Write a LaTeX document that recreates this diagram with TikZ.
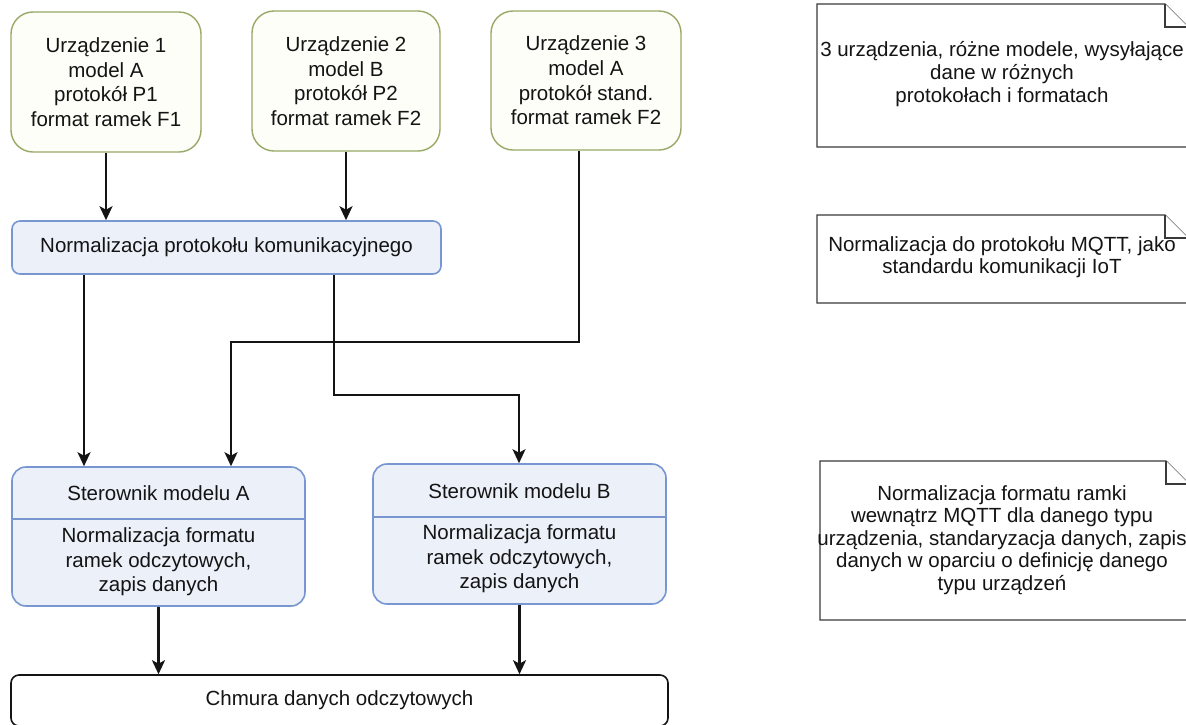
\documentclass[tikz,border=0pt]{standalone}
\usepackage{fontspec}
\setmainfont{Liberation Sans}
\usetikzlibrary{arrows.meta,calc}
\definecolor{devborder}{HTML}{98A866}
\definecolor{devfill}{HTML}{FDFEF8}
\definecolor{blueborder}{HTML}{7897D0}
\definecolor{bluefill}{HTML}{EBF0F9}
\definecolor{ink}{HTML}{141414}
\definecolor{notegray}{HTML}{3A3A3A}
\begin{document}
\begin{tikzpicture}[x=1pt,y=-1pt,
  font=\fontsize{20.5}{24.6}\selectfont, text=ink,
  devbox/.style={draw=devborder, fill=devfill, line width=1.4pt, rounded corners=22pt,
    align=center, inner sep=0pt},
  bluebox/.style={draw=blueborder, fill=bluefill, line width=1.6pt, inner sep=0pt, align=center},
  cloudbox/.style={draw=ink, fill=white, line width=1.6pt, rounded corners=8pt, inner sep=0pt},
  notebox/.style={draw=notegray, fill=white, line width=1.4pt, line join=miter},
  notetext/.style={align=center, inner sep=0pt, font=\fontsize{20.5}{22.6}\selectfont},
  plain/.style={align=center, inner sep=0pt},
  conn/.style={draw=ink, line width=2.2pt, -{Stealth[length=14pt,width=13pt,inset=3.5pt]}}
]
\useasboundingbox (0,0) rectangle (1186,724);
\clip (0,0) rectangle (1186,724);
\fill[white] (0,0) rectangle (1186,724);

% device boxes
\node[devbox, minimum width=190pt, minimum height=140pt] (d1) at (106,82)
  {Urządzenie 1\\model A\\protokół P1\\format ramek F1};
\node[devbox, minimum width=188pt, minimum height=140pt] (d2) at (346,81)
  {Urządzenie 2\\model B\\protokół P2\\format ramek F2};
\node[devbox, minimum width=190pt, minimum height=139pt] (d3) at (586,80.5)
  {Urządzenie 3\\model A\\protokół stand.\\format ramek F2};

% protocol normalisation
\node[bluebox, rounded corners=8pt, minimum width=429pt, minimum height=53pt] (n) at (226.5,247.5)
  {Normalizacja protokołu komunikacyjnego};

% controllers
\node[bluebox, rounded corners=14pt, minimum width=293pt, minimum height=139pt] (sA) at (158.5,536.5) {};
\node[bluebox, rounded corners=14pt, minimum width=293pt, minimum height=140pt] (sB) at (519.5,534) {};
\coordinate (dA) at (0,519);
\coordinate (dB) at (0,517);
\draw[draw=blueborder, line width=1.6pt] (sA.west |- dA) -- (sA.east |- dA);
\draw[draw=blueborder, line width=1.6pt] (sB.west |- dB) -- (sB.east |- dB);
\node[plain] (sAh) at (158.5,493) {Sterownik modelu A};
\node[plain] (sBh) at (519.5,491) {Sterownik modelu B};
\node[plain] (sAb) at (158.5,562) {Normalizacja formatu\\ramek odczytowych,\\zapis danych};
\node[plain] (sBb) at (519.5,559) {Normalizacja formatu\\ramek odczytowych,\\zapis danych};

% cloud
\node[cloudbox, minimum width=657pt, minimum height=51pt] (c) at (339.5,700.5)
  {Chmura danych odczytowych};

% connectors
\draw[conn] (d1.south) -- (d1.south |- n.north);
\draw[conn] (d2.south) -- (d2.south |- n.north);
\coordinate (cL) at (84,400);
\draw[conn] (n.south -| cL) -- (sA.north -| cL);
\coordinate (c3) at (579,342);
\coordinate (cA) at (231,342);
\draw[conn] (d3.south -| c3) -- (c3) -- (cA) -- (sA.north -| cA);
\coordinate (cn1) at (334,395);
\coordinate (cn2) at (519,395);
\draw[conn] (n.south -| cn1) -- (cn1) -- (cn2) -- (sB.north -| cn2);
\draw[conn] (sA.south) -- (sA.south |- c.north);
\draw[conn] (sB.south) -- (sB.south |- c.north);

% notes
\draw[notebox] (817,4) -- (1165,4) -- (1188,27) -- (1188,147) -- (817,147) -- cycle;
\draw[notebox] (1165,4) -- (1165,27) -- (1188,27);
\node[notetext] (t1) at (1002,74) {3 urządzenia, różne modele, wysyłające\\dane w różnych\\protokołach i formatach};

\draw[notebox] (817,215) -- (1165,215) -- (1188,238) -- (1188,303) -- (817,303) -- cycle;
\draw[notebox] (1165,215) -- (1165,238) -- (1188,238);
\node[notetext] (t2) at (1002,257) {Normalizacja do protokołu MQTT, jako\\standardu komunikacji IoT};

\draw[notebox] (820,461) -- (1166,461) -- (1189,484) -- (1189,620) -- (820,620) -- cycle;
\draw[notebox] (1166,461) -- (1166,484) -- (1189,484);
\node[notetext] (t3) at (1002,540) {Normalizacja formatu ramki\\wewnątrz MQTT dla danego typu\\urządzenia, standaryzacja danych, zapis\\danych w oparciu o definicję danego\\typu urządzeń};
\end{tikzpicture}
\end{document}
